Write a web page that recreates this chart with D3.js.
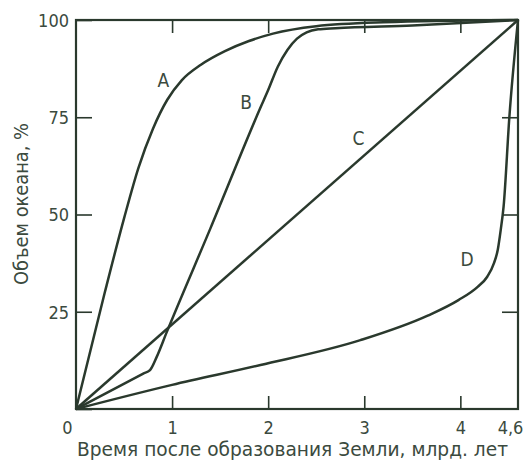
<!DOCTYPE html>
<html>
<head>
<meta charset="utf-8">
<script src="https://cdn.jsdelivr.net/npm/d3@7/dist/d3.min.js"></script>
<style>
  body { margin: 0; background: #fff; }
  svg { display: block; }
  text { font-family: "Liberation Sans Narrow", "DejaVu Sans Condensed", "DejaVu Sans", sans-serif; font-stretch: condensed; fill: #3b4a3e; }
</style>
</head>
<body>
<div id="chart"></div>
<script>
// time since Earth formed, billion years / ocean volume, %
const curveA = [[0, 0], [0.3, 30], [0.5, 49], [0.65, 62], [0.8, 72], [0.95, 79.5], [1.1, 84.5], [1.3, 88.5],
  [1.55, 92], [1.8, 94.6], [2.05, 96.5], [2.5, 98.4], [3.2, 99.4], [4.6, 100]];
const curveB = [[0, 0], [0.7, 9.1], [0.77, 10], [0.84, 13.4], [0.94, 19.5], [1.4, 46.5], [1.92, 77.5], [2.0, 82],
  [2.1, 88], [2.2, 92.3], [2.3, 95.2], [2.4, 96.8], [2.52, 97.6], [2.7, 97.9], [3.5, 98.6], [4.6, 100]];
const curveC = [[0, 0], [4.6, 100]];
const curveD = [[0, 0], [1.0, 6.2], [1.92, 11.3], [2.96, 17.7], [3.66, 24], [3.98, 28], [4.18, 31.4], [4.28, 34],
  [4.35, 37.5], [4.39, 41], [4.42, 46], [4.45, 52], [4.51, 75], [4.6, 100]];
const curveNames = ['A', 'B', 'C', 'D'];
const namePos = [[0.91, 84.5], [1.77, 79], [2.94, 69.5], [4.07, 38.5]];

const xTicks = [0, 1, 2, 3, 4, 4.6];
const yTicks = [0, 25, 50, 75, 100];
const xTitle = 'Время после образования Земли, млрд. лет';
const yTitle = 'Объем океана, %';

const width = 530, height = 462;
const ink = '#2a392d';

const svg = d3.select('#chart').append('svg')
  .attr('width', width)
  .attr('height', height);

const x = d3.scaleLinear().domain([0, 4.6]).range([76, 518]);
const y = d3.scaleLinear().domain([0, 100]).range([409, 20]);

const fmt = d => String(d).replace('.', ',');

// left axis
const left = svg.append('g')
  .attr('transform', `translate(${x(0)},0)`)
  .call(d3.axisLeft(y).tickValues(yTicks).tickSizeInner(-16).tickSizeOuter(0).tickPadding(7).tickFormat(fmt));
left.selectAll('text').attr('font-size', 18).attr('dy', '0.36em');
left.selectAll('text').filter(d => d === 0).remove();

// right axis, ticks only
svg.append('g')
  .attr('transform', `translate(${x(4.6)},0)`)
  .call(d3.axisRight(y).tickValues([25, 50, 75]).tickSizeInner(-16).tickSizeOuter(0).tickFormat(''));

// bottom axis
const bottom = svg.append('g')
  .attr('transform', `translate(0,${y(0)})`)
  .call(d3.axisBottom(x).tickValues(xTicks).tickSizeInner(-13).tickSizeOuter(0).tickPadding(12).tickFormat(fmt));
bottom.selectAll('text').attr('font-size', 18)
  .attr('dx', d => d === 0 ? -9 : (d === 4.6 ? -8 : 0));
bottom.selectAll('line').filter(d => d === 0 || d === 4.6).remove();

// top axis, ticks only
svg.append('g')
  .attr('transform', `translate(0,${y(100)})`)
  .call(d3.axisTop(x).tickValues([1, 2, 3, 4]).tickSizeInner(-13).tickSizeOuter(0).tickFormat(''));

svg.selectAll('.domain').remove();
svg.selectAll('.tick line').attr('stroke', ink).attr('stroke-width', 1.6);

svg.append('rect')
  .attr('x', x(0)).attr('y', y(100))
  .attr('width', x(4.6) - x(0)).attr('height', y(0) - y(100))
  .attr('fill', 'none').attr('stroke', ink).attr('stroke-width', 2.2);

const line = d3.line()
  .x(d => x(d[0]))
  .y(d => y(d[1]))
  .curve(d3.curveMonotoneX);

[curveA, curveB, curveC, curveD].forEach(data => {
  svg.append('path')
    .datum(data)
    .attr('class', 'line')
    .attr('fill', 'none')
    .attr('stroke', ink)
    .attr('stroke-width', 2.5)
    .attr('stroke-linejoin', 'round')
    .attr('d', line);
});

svg.selectAll('.name')
  .data(curveNames)
  .join('text')
  .attr('class', 'name')
  .attr('x', (d, i) => x(namePos[i][0]))
  .attr('y', (d, i) => y(namePos[i][1]))
  .attr('text-anchor', 'middle')
  .attr('dy', '0.36em')
  .attr('font-size', 19)
  .text(d => d);

svg.append('text')
  .attr('x', 77)
  .attr('y', 456)
  .attr('font-size', 19)
  .attr('textLength', 431)
  .attr('lengthAdjust', 'spacingAndGlyphs')
  .text(xTitle);

svg.append('text')
  .attr('transform', 'translate(28,285) rotate(-90)')
  .attr('font-size', 20)
  .attr('textLength', 162)
  .attr('lengthAdjust', 'spacingAndGlyphs')
  .text(yTitle);
</script>
</body>
</html>
